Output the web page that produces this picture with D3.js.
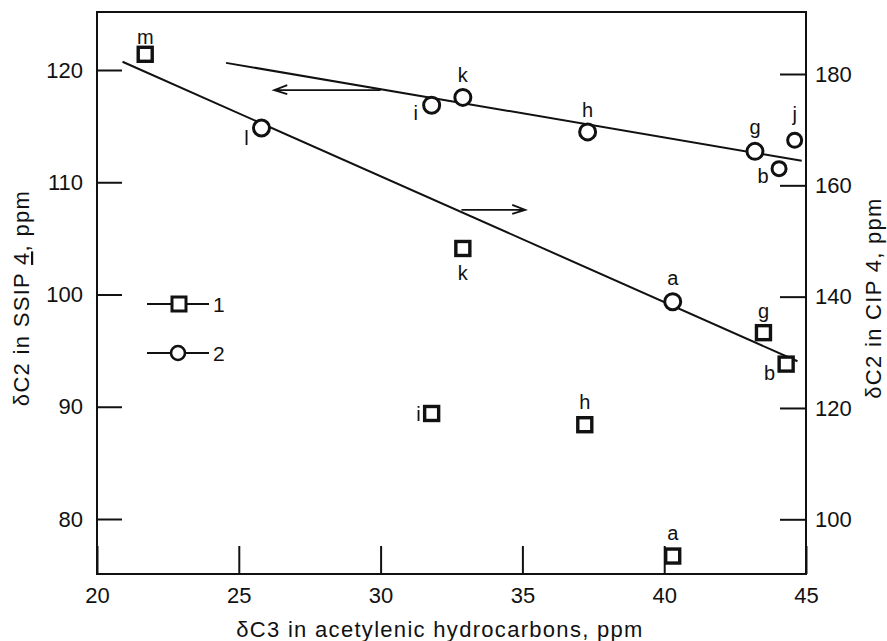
<!DOCTYPE html>
<html>
<head>
<meta charset="utf-8">
<script src="https://cdn.jsdelivr.net/npm/d3@7.9.0/dist/d3.min.js"></script>
<style>
  html, body { margin: 0; padding: 0; background: #fff; }
  svg { display: block; font-family: "Liberation Sans", Arial, Helvetica, sans-serif; }
  .tick text { font-size: 22px; fill: #111; }
  .lbl { font-size: 20px; fill: #111; }
  .title { font-size: 22px; letter-spacing: 1.3px; fill: #111; }
</style>
</head>
<body>
<svg id="chart" width="887" height="641"></svg>
<script>
// --- data ---
// x = dC3 in acetylenic hydrocarbons (ppm)
// series 1 (squares): dC2 in SSIP 4, left axis
const sqLabels = ['m', 'k', 'i', 'h', 'g', 'b', 'a'];
const sqX      = [21.7, 32.9, 31.8, 37.2, 43.5, 44.3, 40.3];
const sqY      = [121.4, 104.1, 89.4, 88.4, 96.6, 93.8, 76.7];

// series 2 (circles): dC2 in CIP 4, right axis
const ciLabels = ['l', 'i', 'k', 'h', 'g', 'b', 'j', 'a'];
const ciX      = [25.8, 31.8, 32.9, 37.3, 43.2, 44.05, 44.6, 40.3];
const ciY      = [170.3, 174.4, 175.8, 169.6, 166.1, 163.0, 168.1, 139.1];

// fitted lines, right-axis units
const upperLineX = [24.55, 44.85];
const upperLineY = [182.0, 164.4];
const lowerLineX = [20.9, 44.7];
const lowerLineY = [182.2, 128.4];

// axis arrows (from -> to), right-axis units
const arrowFromX = [30.0, 32.85];
const arrowToX   = [26.25, 35.1];
const arrowY     = [177.1, 155.6];

const xTicks = [20, 25, 30, 35, 40, 45];
const yLeftTicks = [80, 90, 100, 110, 120];
const yRightTicks = [100, 120, 140, 160, 180];

// label placement relative to marker: [dx, dy, anchor]
const sqLabelPos = {
  m: [0, -10, 'middle'], k: [0, 32, 'middle'], i: [-11, 8, 'end'],
  h: [0, -16, 'middle'], g: [0, -15, 'middle'], b: [-11, 16, 'end'], a: [0, -16, 'middle']
};
const ciLabelPos = {
  l: [-15, 17, 'middle'], i: [-16, 15, 'middle'], k: [0, -15, 'middle'],
  h: [0, -15, 'middle'], g: [0, -17, 'middle'], b: [-16, 14, 'middle'],
  j: [0, -19, 'middle'], a: [0, -17, 'middle']
};

// --- layout ---
const svg = d3.select('#chart');
const L = 97, R = 806, T = 12, B = 574;

const x = d3.scaleLinear().domain([20, 45]).range([L, R]);
const yL = d3.scaleLinear().domain([80, 120]).range([519, 70]);
const yR = d3.scaleLinear().domain([100, 180]).range([519.3, 74]);

// frame
svg.append('rect')
  .attr('x', L).attr('y', T).attr('width', R - L).attr('height', B - T)
  .attr('fill', 'none').attr('stroke', '#111').attr('stroke-width', 2);

// axes with inward ticks
function styleAxis(g) {
  g.select('.domain').remove();
  g.selectAll('.tick line').attr('stroke', '#111').attr('stroke-width', 2);
  g.selectAll('.tick text').attr('font-size', null).attr('font-family', null);
}

svg.append('g')
  .attr('transform', `translate(0,${B})`)
  .call(d3.axisBottom(x).tickValues(xTicks).tickSizeInner(-28).tickSizeOuter(0).tickPadding(13).tickFormat(d3.format('d')))
  .call(styleAxis);

svg.append('g')
  .attr('transform', `translate(${L},0)`)
  .call(d3.axisLeft(yL).tickValues(yLeftTicks).tickSizeInner(-25).tickSizeOuter(0).tickPadding(14).tickFormat(d3.format('d')))
  .call(styleAxis);

svg.append('g')
  .attr('transform', `translate(${R},0)`)
  .call(d3.axisRight(yR).tickValues(yRightTicks).tickSizeInner(-26).tickSizeOuter(0).tickPadding(9).tickFormat(d3.format('d')))
  .call(styleAxis);

// axis titles
svg.append('text').attr('class', 'title')
  .attr('x', 440).attr('y', 637).attr('text-anchor', 'middle')
  .text('δC3 in acetylenic hydrocarbons, ppm');

const lt = svg.append('text').attr('class', 'title')
  .attr('transform', 'translate(29,298) rotate(-90)').attr('text-anchor', 'middle');
lt.append('tspan').text('δC2 in SSIP ');
lt.append('tspan').attr('text-decoration', 'underline').text('4');
lt.append('tspan').text(', ppm');

svg.append('text').attr('class', 'title')
  .attr('transform', 'translate(881,298) rotate(-90)').attr('text-anchor', 'middle')
  .text('δC2 in CIP 4, ppm');

// lines
const line = d3.line().x(d => x(d[0])).y(d => yR(d[1]));
[[upperLineX, upperLineY], [lowerLineX, lowerLineY]].forEach(([xs, ys]) => {
  svg.append('path')
    .datum(d3.zip(xs, ys))
    .attr('d', line)
    .attr('fill', 'none').attr('stroke', '#111').attr('stroke-width', 2);
});

// arrows
arrowFromX.forEach((fx, i) => {
  const x0 = x(fx), x1 = x(arrowToX[i]), yy = yR(arrowY[i]);
  const dir = Math.sign(x1 - x0);
  svg.append('path')
    .attr('d', `M${x0},${yy}L${x1},${yy}M${x1 - dir * 13},${yy - 5}L${x1},${yy}L${x1 - dir * 13},${yy + 4}`)
    .attr('fill', 'none').attr('stroke', '#111').attr('stroke-width', 1.8);
});

// squares
const sq = 14;
const sqData = sqLabels.map((l, i) => ({ l, x: sqX[i], y: sqY[i] }));
svg.append('g').selectAll('rect').data(sqData).join('rect')
  .attr('x', d => x(d.x) - sq / 2).attr('y', d => yL(d.y) - sq / 2)
  .attr('width', sq).attr('height', sq)
  .attr('fill', '#fff').attr('stroke', '#111').attr('stroke-width', 3.4);
svg.append('g').selectAll('text').data(sqData).join('text')
  .attr('class', 'lbl')
  .attr('x', d => x(d.x) + sqLabelPos[d.l][0])
  .attr('y', d => yL(d.y) + sqLabelPos[d.l][1])
  .attr('text-anchor', d => sqLabelPos[d.l][2])
  .text(d => d.l);

// circles
const ciData = ciLabels.map((l, i) => ({ l, x: ciX[i], y: ciY[i] }));
svg.append('g').selectAll('circle').data(ciData).join('circle')
  .attr('cx', d => x(d.x)).attr('cy', d => yR(d.y))
  .attr('r', d => (d.l === 'b' || d.l === 'j') ? 7 : 8)
  .attr('fill', '#fff').attr('stroke', '#111').attr('stroke-width', 3);
svg.append('g').selectAll('text').data(ciData).join('text')
  .attr('class', 'lbl')
  .attr('x', d => x(d.x) + ciLabelPos[d.l][0])
  .attr('y', d => yR(d.y) + ciLabelPos[d.l][1])
  .attr('text-anchor', d => ciLabelPos[d.l][2])
  .text(d => d.l);

// legend
const legend = svg.append('g');
const legendItems = [{ key: '1', shape: 'square', y: 304 }, { key: '2', shape: 'circle', y: 353 }];
legendItems.forEach(it => {
  legend.append('line').attr('x1', 147).attr('x2', 209).attr('y1', it.y).attr('y2', it.y)
    .attr('stroke', '#111').attr('stroke-width', 2);
  if (it.shape === 'square') {
    legend.append('rect').attr('x', 172).attr('y', it.y - 7).attr('width', 14).attr('height', 14)
      .attr('fill', '#fff').attr('stroke', '#111').attr('stroke-width', 3);
  } else {
    legend.append('circle').attr('cx', 178).attr('cy', it.y).attr('r', 7)
      .attr('fill', '#fff').attr('stroke', '#111').attr('stroke-width', 2.6);
  }
  legend.append('text').attr('class', 'lbl').attr('x', 213).attr('y', it.y + 7.5)
    .style('font-size', '21px').text(it.key);
});
</script>
</body>
</html>
